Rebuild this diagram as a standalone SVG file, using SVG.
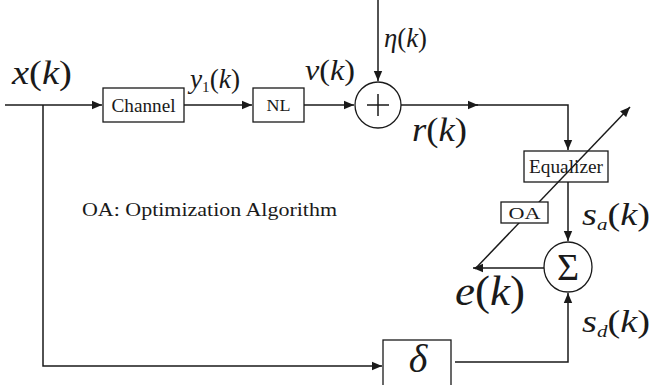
<svg xmlns="http://www.w3.org/2000/svg" width="652" height="385" viewBox="0 0 652 385">
<defs>
<marker id="ah" viewBox="0 0 10 10" refX="10" refY="5" markerWidth="10" markerHeight="10" markerUnits="userSpaceOnUse" orient="auto">
<path d="M0,0.8 L10,5 L0,9.2 Z" fill="#1a1a1a"/>
</marker>
<style>
.ln{stroke:#1a1a1a;stroke-width:1.5;fill:none}
.bx{stroke:#1a1a1a;stroke-width:1.3;fill:#fff}
text{font-family:'Liberation Serif','Times New Roman',serif;fill:#1a1a1a}
.m{font-style:italic}
.up{font-style:normal}
</style>
</defs>
<rect width="652" height="385" fill="#fff"/>

<g id="n-channel">
<rect class="bx" x="103" y="88" width="81" height="34"/>
<text x="143.5" y="112" font-size="19" text-anchor="middle" textLength="64" lengthAdjust="spacingAndGlyphs">Channel</text>
</g>
<g id="n-nl">
<rect class="bx" x="253" y="88" width="51" height="34"/>
<text x="278.5" y="111" font-size="16" text-anchor="middle" textLength="24" lengthAdjust="spacingAndGlyphs">NL</text>
</g>
<g id="n-sum">
<circle class="bx" cx="378" cy="105" r="23"/>
<path class="ln" d="M367,105 H389 M378,94 V116" stroke-width="1.2"/>
</g>
<g id="n-equalizer">
<rect class="bx" x="524" y="151" width="84" height="31"/>
<text x="566" y="173" font-size="19" text-anchor="middle" textLength="74" lengthAdjust="spacingAndGlyphs">Equalizer</text>
</g>
<g id="n-sigma">
<ellipse class="bx" cx="568" cy="267" rx="24" ry="25"/>
<text x="568" y="280" font-size="38" text-anchor="middle">Σ</text>
</g>
<g id="n-delta">
<rect class="bx" x="383" y="340" width="68" height="50"/>
<text class="m" x="418" y="372" font-size="40" text-anchor="middle">δ</text>
</g>

<g id="connectors">
<path class="ln" d="M5,105 H102" marker-end="url(#ah)"/>
<path class="ln" d="M184,105 H252" marker-end="url(#ah)"/>
<path class="ln" d="M304,105 H354" marker-end="url(#ah)"/>
<path class="ln" d="M378,0 V81" marker-end="url(#ah)"/>
<path class="ln" d="M401,105 H478" marker-end="url(#ah)"/>
<path class="ln" d="M476,105 H568 V150" marker-end="url(#ah)"/>
<path class="ln" d="M568,182 V241" marker-end="url(#ah)"/>
<path class="ln" d="M544,268 H473" marker-end="url(#ah)"/>
<path class="ln" d="M43,105 V366 H382" marker-end="url(#ah)"/>
<path class="ln" d="M455,362 H568 V293" marker-end="url(#ah)"/>
<path class="ln" d="M475,269 L630,107" stroke-width="1.2" marker-end="url(#ah)"/>
</g>

<g id="n-oa">
<rect class="bx" x="501" y="202" width="47" height="21"/>
<text x="524.5" y="219" font-size="17" text-anchor="middle" textLength="32" lengthAdjust="spacingAndGlyphs">OA</text>
</g>

<g id="labels">
<text x="82" y="216" font-size="19" textLength="255" lengthAdjust="spacingAndGlyphs">OA: Optimization Algorithm</text>
<text class="m" x="12" y="84" font-size="33" textLength="60" lengthAdjust="spacingAndGlyphs">x<tspan class="up">(</tspan>k<tspan class="up">)</tspan></text>
<text class="m" x="190" y="88" font-size="27" textLength="50" lengthAdjust="spacingAndGlyphs">y<tspan font-size="15" dy="4" class="up">1</tspan><tspan class="up" dy="-4">(</tspan>k<tspan class="up">)</tspan></text>
<text class="m" x="305" y="80" font-size="29" textLength="50" lengthAdjust="spacingAndGlyphs">v<tspan class="up">(</tspan>k<tspan class="up">)</tspan></text>
<text class="m" x="384" y="47" font-size="27" textLength="43" lengthAdjust="spacingAndGlyphs">η<tspan class="up">(</tspan>k<tspan class="up">)</tspan></text>
<text class="m" x="412" y="141" font-size="33" textLength="55" lengthAdjust="spacingAndGlyphs">r<tspan class="up">(</tspan>k<tspan class="up">)</tspan></text>
<text class="m" x="582" y="225" font-size="31" textLength="68" lengthAdjust="spacingAndGlyphs">s<tspan font-size="17" dy="5">a</tspan><tspan class="up" dy="-5">(</tspan>k<tspan class="up">)</tspan></text>
<text class="m" x="582" y="332" font-size="31" textLength="68" lengthAdjust="spacingAndGlyphs">s<tspan font-size="17" dy="5">d</tspan><tspan class="up" dy="-5">(</tspan>k<tspan class="up">)</tspan></text>
<text class="m" x="455" y="305" font-size="43" textLength="70" lengthAdjust="spacingAndGlyphs">e<tspan class="up">(</tspan>k<tspan class="up">)</tspan></text>
</g>
</svg>
